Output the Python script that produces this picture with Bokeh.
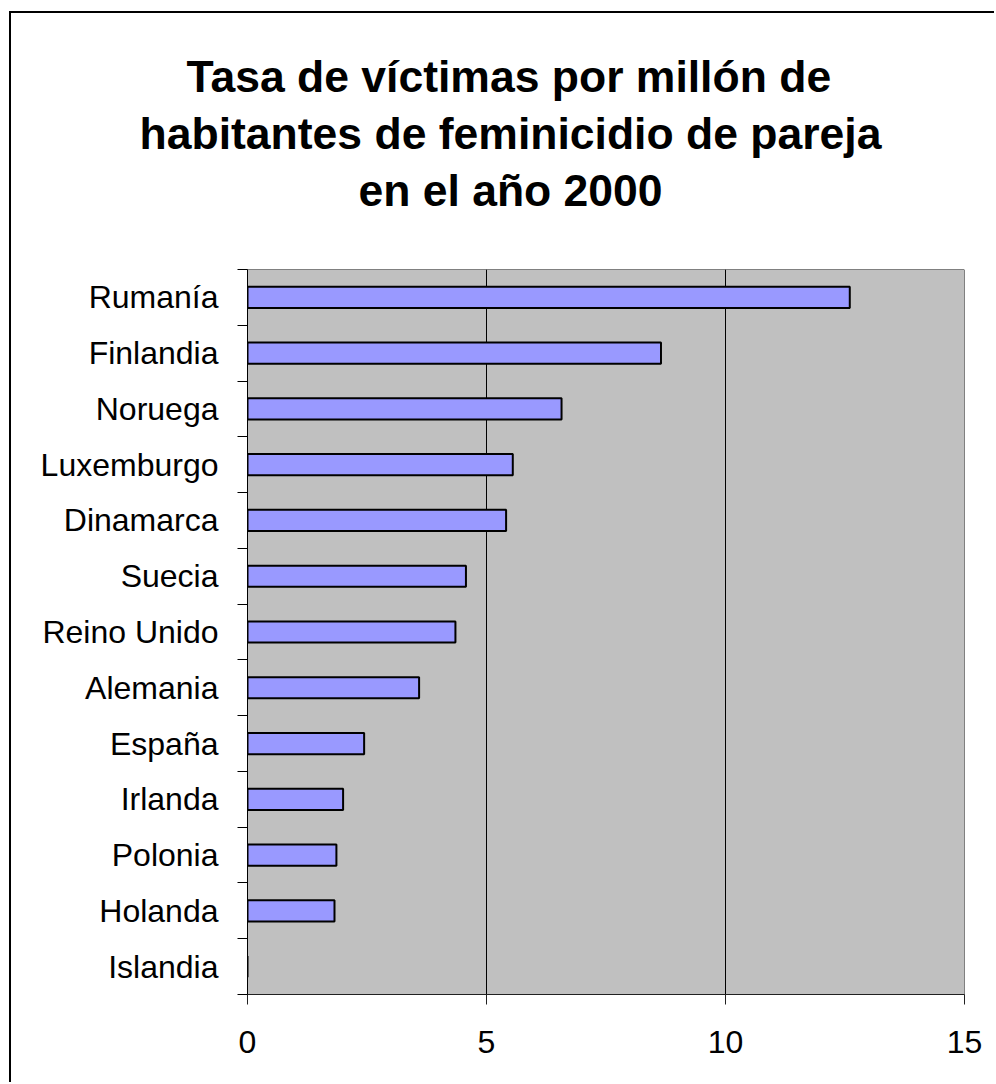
from bokeh.plotting import figure
from bokeh.models import Range1d, FixedTicker, Title, LinearAxis
from bokeh.embed import file_html
from bokeh.resources import INLINE

countries = ["Rumanía", "Finlandia", "Noruega", "Luxemburgo", "Dinamarca", "Suecia",
             "Reino Unido", "Alemania", "España", "Irlanda", "Polonia", "Holanda", "Islandia"]
rates = [12.6, 8.65, 6.57, 5.55, 5.41, 4.57, 4.35, 3.59, 2.44, 2.0, 1.86, 1.82, 0.0]
x_ticks = [0, 5, 10, 15]
title_lines = ["Tasa de víctimas por millón de",
               "habitantes de feminicidio de pareja",
               "en el año 2000"]

n = len(countries)
ypos = [n - 1 - i for i in range(n)]

OX, OY = 9, 11          # chart frame (border) position on the page
BW = 2                  # border width
CX, CY = OX + BW, OY + BW   # canvas origin on the page
W, H = 996 - CX, 1084 - CY
FL, FR, FT, FB = 247, 964, 269, 994   # plot frame on the page

p = figure(width=W, height=H, output_backend="svg", toolbar_location=None,
           x_range=Range1d(0, 15), y_range=Range1d(-0.5, n - 0.5),
           min_border_left=FL - CX, min_border_right=W - (FR - CX),
           min_border_top=FT - CY, min_border_bottom=H - (FB - CY),
           background_fill_color="#C0C0C0", border_fill_color="white")
p.margin = (OY, 0, 0, OX)
p.styles = {"border-left": f"{BW}px solid black", "border-top": f"{BW}px solid black"}
p.title = None
p.outline_line_color = "#808080"
p.outline_line_width = 1

p.hbar(y=ypos, right=rates, left=0, height=0.38,
       fill_color="#9999FF", line_color="black", line_width=2)

# x axis
xa = p.xaxis[0]
xa.ticker = FixedTicker(ticks=x_ticks)
xa.major_tick_out = 10
xa.major_tick_in = 0
xa.minor_tick_line_color = None
xa.axis_line_color = "#202020"
xa.major_tick_line_color = "#202020"
xa.major_label_text_font = "Liberation Sans"
xa.major_label_text_font_size = "32px"
xa.major_label_text_color = "black"
xa.major_label_standoff = 26

# y axis
ya = p.yaxis[0]
ya.ticker = FixedTicker(ticks=ypos, minor_ticks=[v - 0.5 for v in range(n + 1)])
ya.major_label_overrides = {y: c for y, c in zip(ypos, countries)}
ya.major_tick_line_color = None
ya.major_tick_out = 10
ya.major_tick_in = 0
ya.minor_tick_out = 10
ya.minor_tick_in = 0
ya.minor_tick_line_color = "black"
ya.axis_line_color = "black"
ya.major_label_text_font = "Liberation Sans"
ya.major_label_text_font_size = "32px"
ya.major_label_text_color = "black"
ya.major_label_standoff = 19

p.xgrid.grid_line_color = "black"
p.xgrid.grid_line_width = 1
p.ygrid.grid_line_color = None

# invisible spacer between the plot and the title: a white tick on white
spacer = LinearAxis(ticker=FixedTicker(ticks=[15], minor_ticks=[]),
                    axis_line_color=None,
                    major_tick_line_color="white", minor_tick_line_color=None,
                    major_tick_out=52, major_tick_in=0, minor_tick_out=0,
                    major_label_standoff=0, major_label_overrides={15: ""},
                    major_label_text_font_size="1px")
p.add_layout(spacer, "above")

# title lines, left-aligned at positions that centre them at x=510 on the page
TFS = 44.5
widths_em = [14.561, 16.672, 6.837]   # Arial/Liberation Sans Bold advance widths
for line, wem in reversed(list(zip(title_lines, widths_em))):
    left = 510 - wem * TFS / 2
    p.add_layout(Title(text=line, align="left", offset=left - FL,
                       text_font="Liberation Sans", text_font_style="bold",
                       text_font_size=f"{TFS}px", text_color="black",
                       standoff=6), "above")

open("out.html", "w").write(file_html(p, INLINE))
